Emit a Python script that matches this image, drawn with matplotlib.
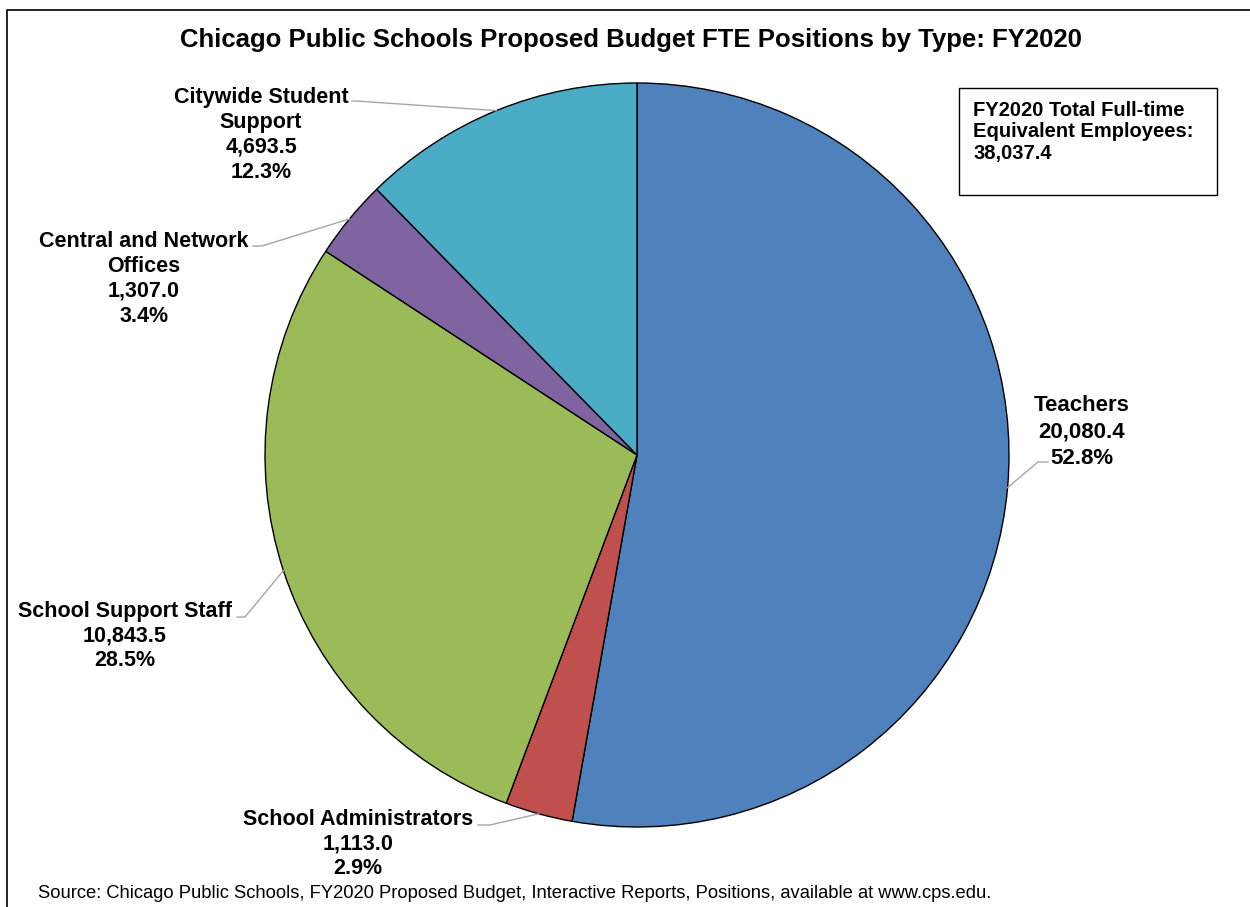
import numpy as np
import matplotlib
matplotlib.use("Agg")
import matplotlib.pyplot as plt
from matplotlib.patches import Rectangle
from matplotlib.lines import Line2D

plt.rcParams['font.family'] = ['Liberation Sans', 'DejaVu Sans']

# ---- data ----
categories = ["Teachers", "School Administrators", "School Support Staff",
              "Central and Network Offices", "Citywide Student Support"]
label_lines = ["Teachers", "School Administrators", "School Support Staff",
               "Central and Network\nOffices", "Citywide Student\nSupport"]
values = [20080.4, 1113.0, 10843.5, 1307.0, 4693.5]
colors = ["#4F81BD", "#C0504D", "#9BBB59", "#8064A2", "#4BACC6"]
total_fte = 38037.4
title = "Chicago Public Schools Proposed Budget FTE Positions by Type: FY2020"
box_text = "FY2020 Total Full-time\nEquivalent Employees:\n38,037.4"
source = ("Source: Chicago Public Schools, FY2020 Proposed Budget, Interactive Reports, "
          "Positions, available at www.cps.edu.")

W, H = 1250, 907
fig = plt.figure(figsize=(W / 100, H / 100), dpi=100)
ax = fig.add_axes([0, 0, 1, 1])


def Y(y):
    return H - y


cx, cy, R = 637, Y(455), 372
wedges, _ = ax.pie(values, colors=colors, startangle=90, counterclock=False,
                   center=(cx, cy), radius=R, frame=True,
                   wedgeprops=dict(edgecolor='black', linewidth=1.0))
ax.set_xlim(0, W)
ax.set_ylim(0, H)
ax.set_aspect('equal')
ax.axis('off')

tot = sum(values)
pcts = [v / tot * 100 for v in values]

# label layout: text center (tx, ty px), elbow (ex, ey px), line end lx, font size, spacing
layout = {
    "Teachers": dict(tx=1082, ty=432, ex=1038, ey=462, lx=1048, fs=16, ls=1.32),
    "School Administrators": dict(tx=358, ty=844, ex=490, ey=825, lx=478, fs=15.5, ls=1.23),
    "School Support Staff": dict(tx=125, ty=636, ex=245, ey=617, lx=237, fs=15.5, ls=1.23),
    "Central and Network Offices": dict(tx=144, ty=279, ex=262, ey=246, lx=253, fs=15.5, ls=1.23),
    "Citywide Student Support": dict(tx=261, ty=135, ex=356, ey=101, lx=352, fs=15.5, ls=1.23),
}

for w, cat, lab, v, p in zip(wedges, categories, label_lines, values, pcts):
    L = layout[cat]
    mid = np.deg2rad((w.theta1 + w.theta2) / 2)
    axp = cx + R * np.cos(mid)
    ayp = cy + R * np.sin(mid)
    ax.add_line(Line2D([axp, L['ex'], L['lx']], [ayp, Y(L['ey']), Y(L['ey'])],
                       color='#A6A6A6', lw=1.0, zorder=1))
    txt = f"{lab}\n{v:,.1f}\n{p:.1f}%"
    ax.text(L['tx'], Y(L['ty']), txt, ha='center', va='center', fontsize=L['fs'],
            fontweight='bold', linespacing=L['ls'], color='black')

# title
ax.text(631, Y(47), title, ha='center', va='baseline', fontsize=18.5, fontweight='bold')

# total box
ax.add_patch(Rectangle((959, Y(195)), 258, 107, fill=False, edgecolor='black', lw=1.0))
ax.text(973, Y(101), box_text, ha='left', va='top', fontsize=14.5, fontweight='bold',
        linespacing=1.16)

# source
ax.text(38, Y(893), source, ha='left', va='center', fontsize=13.2)

# outer frame
ax.add_line(Line2D([7, 7, W], [0, Y(10), Y(10)], color='black', lw=1.2))

fig.savefig("out.png", dpi=100)
